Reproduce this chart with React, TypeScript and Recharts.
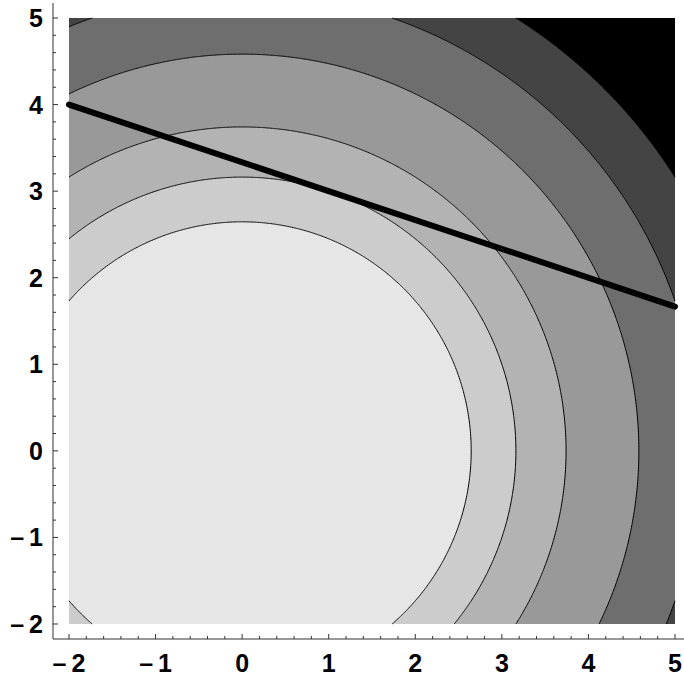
import React from 'react';
import { ComposedChart, Area, Line, XAxis, YAxis } from 'recharts';

// Contour levels of x^2 + y^2 (outer to inner)
const contourLevels = [35, 28, 21, 14, 10, 7];
// Region shades: background (beyond outermost level) then each disc, outer to inner
const regionFills = ['#000000', '#444444', '#6e6e6e', '#999999', '#b3b3b3', '#cccccc', '#e6e6e6'];
// Plot region
const plotX = [-2, 5];
const plotY = [-2, 5];
// Thick line endpoints
const lineX = [-2, 5];
const lineY = [4, 1.667];
// Tick values
const majorTicks = [-2, -1, 0, 1, 2, 3, 4, 5];
const tickValues: number[] = [];
for (let k = -10; k <= 25; k++) tickValues.push(k / 5);

const PAD_X = 0.1848;
const PAD_Y = 0.1733;

const [x0, x1] = plotX;
const [y0, y1] = plotY;

// Build a shared table sampled along each contour
const gridSet = new Map<string, number>();
const addX = (v: number) => {
  const c = Math.min(x1, Math.max(x0, v));
  gridSet.set(c.toFixed(9), c);
};
addX(x0);
addX(x1);
lineX.forEach(addX);
contourLevels.forEach((L) => {
  const r = Math.sqrt(L);
  const xEnd = Math.min(r, x1);
  const thMax = Math.acos(Math.max(-1, x0 / r));
  const thMin = Math.acos(xEnd / r);
  const N = 260;
  for (let i = 0; i <= N; i++) {
    const th = thMin + ((thMax - thMin) * i) / N;
    addX(r * Math.cos(th));
  }
  if (L > y1 * y1) {
    const c = Math.sqrt(L - y1 * y1);
    addX(c);
    addX(-c);
  }
  if (L > y0 * y0) {
    const c = Math.sqrt(L - y0 * y0);
    addX(c);
    addX(-c);
  }
});
const xs = Array.from(gridSet.values()).sort((a, b) => a - b);

const tableData = xs.map((x) => {
  const row: any = { x, bg: [y0, y1] };
  contourLevels.forEach((L, i) => {
    const d = L - x * x;
    if (d >= -1e-9) {
      const s = Math.sqrt(Math.max(0, d));
      row[`f${i}`] = [Math.max(y0, -s), Math.min(y1, s)];
      row[`u${i}`] = s <= y1 + 1e-7 ? Math.min(s, y1) : null;
      row[`l${i}`] = -s >= y0 - 1e-7 ? Math.max(-s, y0) : null;
    } else {
      row[`f${i}`] = null;
      row[`u${i}`] = null;
      row[`l${i}`] = null;
    }
  });
  const li = lineX.findIndex((lx) => Math.abs(lx - x) < 1e-9);
  row.ln = li >= 0 ? lineY[li] : null;
  return row;
});

const isMajor = (v: number) => majorTicks.some((m) => Math.abs(v - m) < 1e-6);
const fmt = (v: number) => {
  const n = Math.round(v);
  return n < 0 ? '\u2013\u2009' + Math.abs(n) : String(n);
};

const AXIS = '#333333';
const labelStyle: React.CSSProperties = {
  fontFamily: '"Liberation Sans", Arial, Helvetica, sans-serif',
  fontWeight: 'bold',
  fontSize: 25,
};

const BottomTick = (props: any) => {
  const { x, y, payload } = props;
  const v = payload.value;
  const major = isMajor(v);
  return (
    <g>
      <line x1={x} x2={x} y1={y} y2={y - (major ? 5 : 3)} stroke={AXIS} strokeWidth={1} />
      {major && (
        <text x={x} y={y + 33} textAnchor="middle" fill="#000" style={labelStyle}>
          {fmt(v)}
        </text>
      )}
    </g>
  );
};

const TopTick = (props: any) => {
  const { x, y, payload } = props;
  const major = isMajor(payload.value);
  return <line x1={x} x2={x} y1={y} y2={y + (major ? 5 : 3)} stroke={AXIS} strokeWidth={1} />;
};

const LeftTick = (props: any) => {
  const { x, y, payload } = props;
  const v = payload.value;
  const major = isMajor(v);
  return (
    <g>
      <line x1={x} x2={x + (major ? 5 : 3)} y1={y} y2={y} stroke={AXIS} strokeWidth={1} />
      {major && (
        <text x={x - 10} y={y + 9} textAnchor="end" fill="#000" style={labelStyle}>
          {fmt(v)}
        </text>
      )}
    </g>
  );
};

export default function App() {
  return (
    <div style={{ position: 'absolute', left: 0, top: 0, width: 684, height: 677, overflow: 'hidden', background: '#fff' }}>
      <ComposedChart
        width={700}
        height={677}
        data={tableData}
        margin={{ top: 3, right: 9, bottom: 0, left: 0 }}
      >
        <XAxis
          xAxisId="b"
          dataKey="x"
          type="number"
          orientation="bottom"
          domain={[x0 - PAD_X, x1 + PAD_X]}
          allowDataOverflow
          ticks={tickValues}
          interval={0}
          height={38}
          tickSize={0}
          tickMargin={0}
          tickLine={false}
          axisLine={{ stroke: AXIS }}
          tick={<BottomTick />}
        />
        <XAxis
          xAxisId="t"
          dataKey="x"
          type="number"
          orientation="top"
          domain={[x0 - PAD_X, x1 + PAD_X]}
          allowDataOverflow
          ticks={tickValues}
          interval={0}
          height={0}
          tickSize={0}
          tickMargin={0}
          tickLine={false}
          axisLine={{ stroke: AXIS }}
          tick={<TopTick />}
        />
        <YAxis
          yAxisId="l"
          type="number"
          orientation="left"
          domain={[y0 - PAD_Y, y1 + PAD_Y]}
          allowDataOverflow
          ticks={tickValues}
          interval={0}
          width={53}
          tickSize={0}
          tickMargin={0}
          tickLine={false}
          axisLine={{ stroke: AXIS }}
          tick={<LeftTick />}
        />
        <Area
          xAxisId="b"
          yAxisId="l"
          dataKey="bg"
          type="linear"
          stroke="none"
          fill={regionFills[0]}
          fillOpacity={1}
          connectNulls
          dot={false}
          activeDot={false}
          isAnimationActive={false}
        />
        {contourLevels.map((L, i) => (
          <Area
            key={`f${i}`}
            xAxisId="b"
            yAxisId="l"
            dataKey={`f${i}`}
            type="linear"
            stroke="none"
            fill={regionFills[i + 1]}
            fillOpacity={1}
            connectNulls
            dot={false}
            activeDot={false}
            isAnimationActive={false}
          />
        ))}
        {contourLevels.map((L, i) => (
          <Line
            key={`u${i}`}
            xAxisId="b"
            yAxisId="l"
            dataKey={`u${i}`}
            type="linear"
            stroke="#000"
            strokeWidth={1}
            dot={false}
            activeDot={false}
            connectNulls={false}
            isAnimationActive={false}
          />
        ))}
        {contourLevels.map((L, i) => (
          <Line
            key={`l${i}`}
            xAxisId="b"
            yAxisId="l"
            dataKey={`l${i}`}
            type="linear"
            stroke="#000"
            strokeWidth={1}
            dot={false}
            activeDot={false}
            connectNulls={false}
            isAnimationActive={false}
          />
        ))}
        <Line
          xAxisId="b"
          yAxisId="l"
          dataKey="ln"
          type="linear"
          stroke="#000"
          strokeWidth={6}
          strokeLinecap="round"
          dot={false}
          activeDot={false}
          connectNulls
          isAnimationActive={false}
        />
      </ComposedChart>
    </div>
  );
}
